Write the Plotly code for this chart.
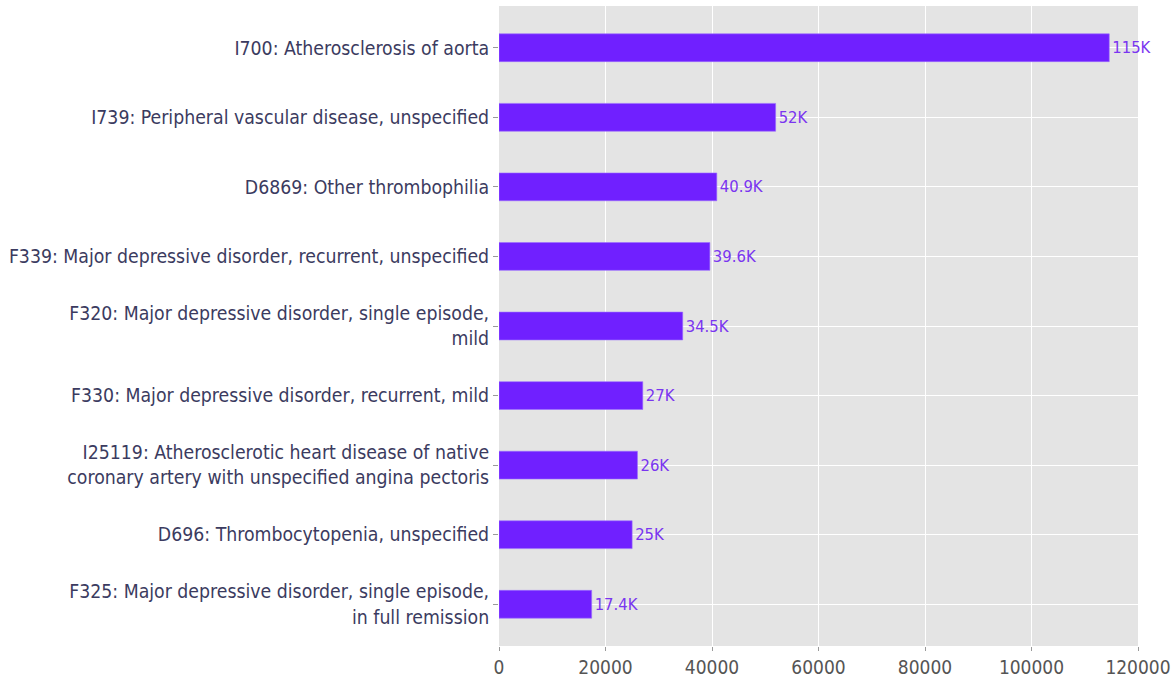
import plotly.graph_objects as go

categories = [
    "I700: Atherosclerosis of aorta",
    "I739: Peripheral vascular disease, unspecified",
    "D6869: Other thrombophilia",
    "F339: Major depressive disorder, recurrent, unspecified",
    "F320: Major depressive disorder, single episode,<br>mild",
    "F330: Major depressive disorder, recurrent, mild",
    "I25119: Atherosclerotic heart disease of native<br>coronary artery with unspecified angina pectoris",
    "D696: Thrombocytopenia, unspecified",
    "F325: Major depressive disorder, single episode,<br>in full remission",
]
values = [114600, 51950, 40900, 39600, 34500, 27000, 26000, 25000, 17400]
labels = ["115K", "52K", "40.9K", "39.6K", "34.5K", "27K", "26K", "25K", "17.4K"]
x_ticks = [0, 20000, 40000, 60000, 80000, 100000, 120000]

FONT = "DejaVu Sans Condensed, DejaVu Sans, sans-serif"

fig = go.Figure(
    go.Bar(
        x=values,
        y=categories,
        orientation="h",
        width=0.4,
        marker=dict(color="#7020ff", line=dict(width=0.6, color="#9a6bff")),
        text=labels,
        textposition="outside",
        textfont=dict(color="#7a35f0", size=16.5, family=FONT),
        cliponaxis=False,
    )
)

fig.update_layout(
    width=1173,
    height=680,
    margin=dict(l=499, r=35, t=6, b=34),
    paper_bgcolor="white",
    plot_bgcolor="#e4e4e4",
    font=dict(family=FONT, color="#2a3f5f", size=19),
    showlegend=False,
)
fig.update_xaxes(
    range=[0, 120000],
    tickvals=x_ticks,
    ticktext=[str(v) for v in x_ticks],
    showgrid=True,
    gridcolor="white",
    gridwidth=1,
    ticks="outside",
    ticklen=4,
    tickcolor="#9a9a9a",
    tickfont=dict(color="#555555", size=19, family=FONT),
    zeroline=False,
    showline=False,
    automargin=False,
)
fig.update_yaxes(
    range=[len(categories) - 1 + 0.6, -0.6],
    showgrid=True,
    gridcolor="white",
    gridwidth=1,
    ticks="outside",
    ticklen=5,
    tickcolor="#9a9a9a",
    tickfont=dict(color="#3b3b60", size=19.3, family=FONT),
    showline=False,
    automargin=False,
)

fig.write_html(
    "out.html",
    config={"displayModeBar": False},
    post_script="document.body.style.margin='0';",
)
